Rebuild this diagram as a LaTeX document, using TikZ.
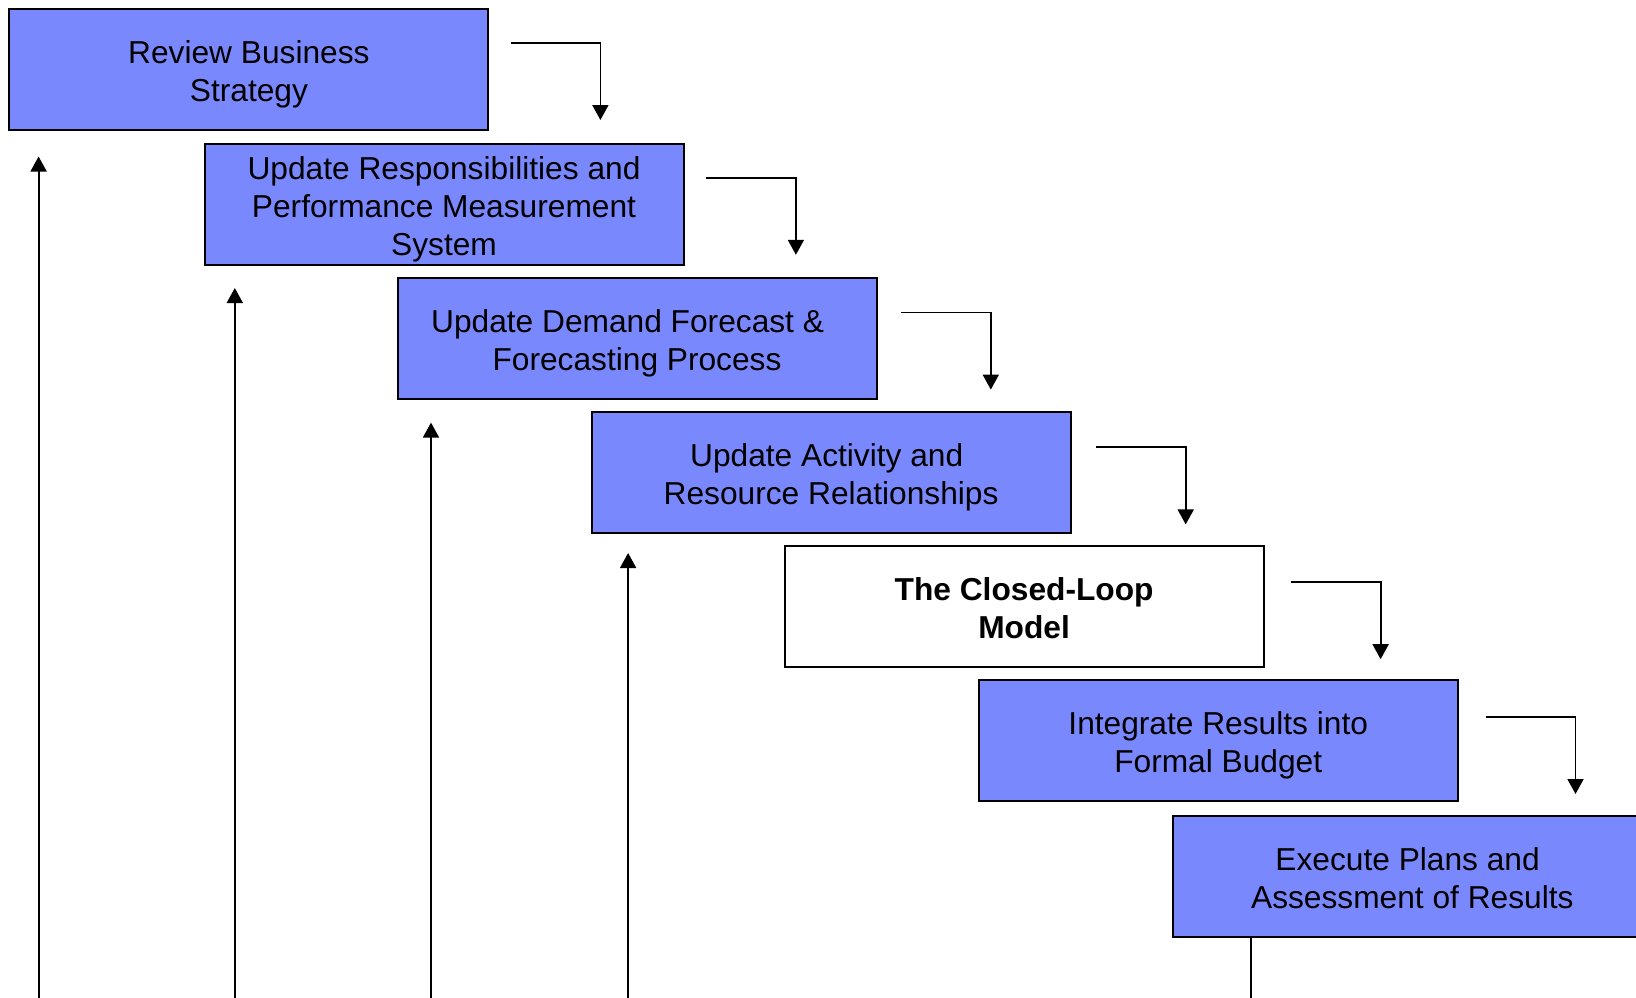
\documentclass[tikz,border=0pt]{standalone}
\usepackage{fontspec}
\setmainfont{Liberation Sans}
\usetikzlibrary{calc,arrows.meta}
\definecolor{stepblue}{RGB}{121,136,252}
% centred stage caption, set slightly below the middle of its box
\newcommand{\stagetext}[1]{\raisebox{-2.7pt}[\height][\depth]{\begin{tabular}{@{}c@{}}#1\end{tabular}}}
\begin{document}
\begin{tikzpicture}[x=0.5pt,y=-0.5pt,
  stage/.style={draw=black, line width=1pt, fill=stepblue,
    minimum width=239.5pt, minimum height=60.5pt, inner sep=0pt, outer sep=0pt,
    anchor=north west,
    font=\fontsize{15.85pt}{19pt}\selectfont},
  hub/.style={stage, fill=white, font=\fontsize{15.85pt}{19pt}\selectfont\bfseries},
  link/.style={draw=black, line width=0.9pt},
  arr/.style={link, -{Triangle[width=8pt,length=7.5pt]}}]
\useasboundingbox (0,0) rectangle (1636,997);
\clip (0,0) rectangle (1636,997);
\fill[white] (0,0) rectangle (1636,997);

% the seven stages, stepping down to the right
\node[stage] (b1) at (9.4,9.4)     {\stagetext{Review Business\\Strategy}};
\node[stage] (b2) at (204.5,144)   {\stagetext{Update Responsibilities and\\Performance Measurement\\System}};
\node[stage] (b3) at (397.5,277.5) {\stagetext{Update Demand Forecast \&\hspace*{9.4pt}\\Forecasting Process}};
\node[stage] (b4) at (591.6,412)   {\stagetext{Update Activity and\hspace*{4.4pt}\\Resource Relationships}};
\node[hub]   (b5) at (784.6,545.7) {\stagetext{The Closed-Loop\\Model}};
\node[stage] (b6) at (978.7,680)   {\stagetext{Integrate Results into\\Formal Budget}};
\node[stage] (b7) at (1172.8,816)  {\stagetext{Execute Plans and\hspace*{4.7pt}\\Assessment of Results}};

\coordinate (floor) at (0,1000);

% elbow arrows from each stage towards the next one
\foreach \i/\sx/\cx/\sy/\ty in {1/22.3/112.0/33.4/110.6, 2/22.7/112.4/33.6/110.8,
                                3/24.6/114.3/34.9/112.1, 4/25.4/115.1/35.2/112.4,
                                5/27.3/117.0/36.3/113.5, 6/28.1/117.8/36.8/114.0}{
  \coordinate (s\i) at ($(b\i.north east)+(\sx,\sy)$);
  \coordinate (t\i) at ($(b\i.north east)+(\cx,\ty)$);
  \draw[arr] (s\i) -| (t\i);
}

% feedback lines rising from the bottom under the first four stages
\foreach \i/\dx/\dy in {1/29.2/26.1, 2/30.3/23.0, 3/33.5/24.1, 4/36.5/20.0}{
  \coordinate (u\i) at ($(b\i.south west)+(\dx,\dy)$);
  \draw[arr] (u\i |- floor) -- (u\i);
}

% return line leaving the last stage
\coordinate (x7) at ($(b7.south west)+(78,0)$);
\draw[link] (x7) -- (x7 |- floor);
\end{tikzpicture}
\end{document}
